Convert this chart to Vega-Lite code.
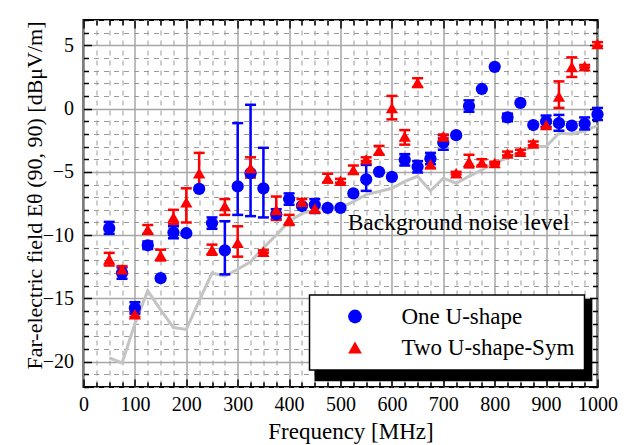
{
 "$schema": "https://vega.github.io/schema/vega-lite/v6.json",
 "width": 514, "height": 367,
 "autosize": {"type": "none"},
 "padding": {"left": 83.5, "top": 20, "right": 34.5, "bottom": 58},
 "background": "white",
 "config": {
  "view": {"stroke": "black", "strokeWidth": 2},
  "font": "Liberation Serif",
  "legend": {"labelFont": "Liberation Serif", "labelFontSize": 23, "labelColor": "black", "labelLimit": 400, "fillColor": "white", "strokeColor": "black", "strokeWidth": 1.5, "padding": 10, "symbolOffset": 24, "labelOffset": 35, "rowPadding": 7, "symbolSize": 190, "symbolStrokeWidth": 0}
 },
 "datasets": {
  "meas": [
   {"f":50,"s":"One U-shape","v":-9.45,"lo":-9.9,"hi":-8.95},
   {"f":75,"s":"One U-shape","v":-13.0,"lo":-13.45,"hi":-12.55},
   {"f":100,"s":"One U-shape","v":-15.75,"lo":-16.2,"hi":-15.3},
   {"f":125,"s":"One U-shape","v":-10.8,"lo":-11.1,"hi":-10.5},
   {"f":150,"s":"One U-shape","v":-13.4,"lo":null,"hi":null},
   {"f":175,"s":"One U-shape","v":-9.8,"lo":-10.25,"hi":-9.3},
   {"f":200,"s":"One U-shape","v":-9.85,"lo":null,"hi":null},
   {"f":225,"s":"One U-shape","v":-6.35,"lo":null,"hi":null},
   {"f":250,"s":"One U-shape","v":-9.05,"lo":-9.5,"hi":-8.6},
   {"f":275,"s":"One U-shape","v":-11.2,"lo":-13.1,"hi":-8.9},
   {"f":300,"s":"One U-shape","v":-6.15,"lo":-8.4,"hi":-1.15},
   {"f":325,"s":"One U-shape","v":-5.1,"lo":-8.5,"hi":0.3},
   {"f":350,"s":"One U-shape","v":-6.3,"lo":-8.6,"hi":-3.1},
   {"f":375,"s":"One U-shape","v":-8.35,"lo":-8.75,"hi":-7.95},
   {"f":400,"s":"One U-shape","v":-7.15,"lo":-7.6,"hi":-6.7},
   {"f":425,"s":"One U-shape","v":-7.7,"lo":null,"hi":null},
   {"f":450,"s":"One U-shape","v":-7.6,"lo":-8.25,"hi":-7.15},
   {"f":475,"s":"One U-shape","v":-7.85,"lo":null,"hi":null},
   {"f":500,"s":"One U-shape","v":-7.85,"lo":null,"hi":null},
   {"f":525,"s":"One U-shape","v":-6.7,"lo":null,"hi":null},
   {"f":550,"s":"One U-shape","v":-5.6,"lo":-6.5,"hi":-4.45},
   {"f":575,"s":"One U-shape","v":-5.0,"lo":null,"hi":null},
   {"f":600,"s":"One U-shape","v":-5.4,"lo":null,"hi":null},
   {"f":625,"s":"One U-shape","v":-4.05,"lo":-4.5,"hi":-3.6},
   {"f":650,"s":"One U-shape","v":-4.6,"lo":-5.05,"hi":-4.15},
   {"f":675,"s":"One U-shape","v":-3.95,"lo":-4.4,"hi":-3.5},
   {"f":700,"s":"One U-shape","v":-2.7,"lo":-3.25,"hi":-2.1},
   {"f":725,"s":"One U-shape","v":-2.1,"lo":null,"hi":null},
   {"f":750,"s":"One U-shape","v":0.2,"lo":-0.25,"hi":0.65},
   {"f":775,"s":"One U-shape","v":1.55,"lo":null,"hi":null},
   {"f":800,"s":"One U-shape","v":3.3,"lo":null,"hi":null},
   {"f":825,"s":"One U-shape","v":-0.7,"lo":-1.0,"hi":-0.4},
   {"f":850,"s":"One U-shape","v":0.45,"lo":null,"hi":null},
   {"f":875,"s":"One U-shape","v":-1.3,"lo":null,"hi":null},
   {"f":900,"s":"One U-shape","v":-1.0,"lo":-1.45,"hi":-0.55},
   {"f":925,"s":"One U-shape","v":-1.15,"lo":-1.75,"hi":-0.5},
   {"f":950,"s":"One U-shape","v":-1.35,"lo":null,"hi":null},
   {"f":975,"s":"One U-shape","v":-1.2,"lo":-1.65,"hi":-0.7},
   {"f":1000,"s":"One U-shape","v":-0.45,"lo":-0.9,"hi":0.05},
   {"f":50,"s":"Two U-shape-Sym","v":-11.9,"lo":-12.4,"hi":-11.4},
   {"f":75,"s":"Two U-shape-Sym","v":-12.7,"lo":-12.95,"hi":-12.45},
   {"f":100,"s":"Two U-shape-Sym","v":-16.25,"lo":-16.45,"hi":-16.05},
   {"f":125,"s":"Two U-shape-Sym","v":-9.55,"lo":-9.9,"hi":-9.2},
   {"f":150,"s":"Two U-shape-Sym","v":-11.6,"lo":-12.0,"hi":-11.15},
   {"f":175,"s":"Two U-shape-Sym","v":-8.6,"lo":-9.1,"hi":-8.0},
   {"f":200,"s":"Two U-shape-Sym","v":-7.4,"lo":-9.0,"hi":-6.3},
   {"f":225,"s":"Two U-shape-Sym","v":-5.1,"lo":-6.4,"hi":-3.5},
   {"f":250,"s":"Two U-shape-Sym","v":-11.15,"lo":-11.55,"hi":-10.75},
   {"f":275,"s":"Two U-shape-Sym","v":-7.7,"lo":-8.4,"hi":-7.15},
   {"f":300,"s":"Two U-shape-Sym","v":-10.6,"lo":-11.7,"hi":-9.3},
   {"f":325,"s":"Two U-shape-Sym","v":-4.7,"lo":-5.45,"hi":-3.85},
   {"f":350,"s":"Two U-shape-Sym","v":-11.3,"lo":-11.4,"hi":-11.2},
   {"f":375,"s":"Two U-shape-Sym","v":-8.0,"lo":-8.8,"hi":-6.95},
   {"f":400,"s":"Two U-shape-Sym","v":-8.8,"lo":-9.2,"hi":-8.4},
   {"f":425,"s":"Two U-shape-Sym","v":-7.35,"lo":-7.55,"hi":-7.15},
   {"f":450,"s":"Two U-shape-Sym","v":-7.9,"lo":-8.2,"hi":-7.6},
   {"f":475,"s":"Two U-shape-Sym","v":-5.5,"lo":-5.85,"hi":-5.15},
   {"f":500,"s":"Two U-shape-Sym","v":-5.7,"lo":-5.85,"hi":-5.55},
   {"f":525,"s":"Two U-shape-Sym","v":-4.85,"lo":-5.15,"hi":-4.5},
   {"f":550,"s":"Two U-shape-Sym","v":-4.0,"lo":-4.15,"hi":-3.85},
   {"f":575,"s":"Two U-shape-Sym","v":-3.3,"lo":-3.65,"hi":-2.95},
   {"f":600,"s":"Two U-shape-Sym","v":0.05,"lo":-0.85,"hi":1.0},
   {"f":625,"s":"Two U-shape-Sym","v":-2.2,"lo":-2.85,"hi":-1.7},
   {"f":650,"s":"Two U-shape-Sym","v":2.05,"lo":1.7,"hi":2.4},
   {"f":675,"s":"Two U-shape-Sym","v":-4.4,"lo":-4.7,"hi":-4.1},
   {"f":700,"s":"Two U-shape-Sym","v":-2.2,"lo":-2.35,"hi":-2.05},
   {"f":725,"s":"Two U-shape-Sym","v":-5.1,"lo":-5.2,"hi":-5.0},
   {"f":750,"s":"Two U-shape-Sym","v":-4.2,"lo":-4.65,"hi":-3.65},
   {"f":775,"s":"Two U-shape-Sym","v":-4.25,"lo":-4.5,"hi":-4.0},
   {"f":800,"s":"Two U-shape-Sym","v":-4.3,"lo":-4.4,"hi":-4.2},
   {"f":825,"s":"Two U-shape-Sym","v":-3.55,"lo":-3.7,"hi":-3.4},
   {"f":850,"s":"Two U-shape-Sym","v":-3.4,"lo":-3.55,"hi":-3.25},
   {"f":875,"s":"Two U-shape-Sym","v":-2.75,"lo":-2.9,"hi":-2.6},
   {"f":900,"s":"Two U-shape-Sym","v":-1.3,"lo":-1.5,"hi":-1.1},
   {"f":925,"s":"Two U-shape-Sym","v":0.95,"lo":0.05,"hi":2.15},
   {"f":950,"s":"Two U-shape-Sym","v":3.3,"lo":2.5,"hi":4.05},
   {"f":975,"s":"Two U-shape-Sym","v":3.35,"lo":3.25,"hi":3.45},
   {"f":1000,"s":"Two U-shape-Sym","v":5.1,"lo":4.95,"hi":5.25}
  ],
  "noise": [
   {"f":50,"n":-19.7},{"f":75,"n":-20.1},{"f":100,"n":-17.0},{"f":125,"n":-14.4},
   {"f":150,"n":-15.9},{"f":175,"n":-17.3},{"f":200,"n":-17.45},{"f":225,"n":-15.2},
   {"f":250,"n":-13.0},{"f":275,"n":-13.25},{"f":300,"n":-12.7},{"f":325,"n":-12.1},
   {"f":350,"n":-11.0},{"f":375,"n":-10.0},{"f":400,"n":-8.9},{"f":425,"n":-8.3},
   {"f":450,"n":-8.0},{"f":475,"n":-7.75},{"f":500,"n":-7.85},{"f":525,"n":-7.35},
   {"f":550,"n":-6.8},{"f":575,"n":-6.55},{"f":600,"n":-6.3},{"f":625,"n":-5.75},
   {"f":650,"n":-5.35},{"f":675,"n":-6.5},{"f":700,"n":-5.5},{"f":725,"n":-5.9},
   {"f":750,"n":-5.35},{"f":775,"n":-4.85},{"f":800,"n":-4.3},{"f":825,"n":-3.9},
   {"f":850,"n":-3.4},{"f":875,"n":-3.0},{"f":900,"n":-3.0},{"f":925,"n":-1.95},
   {"f":950,"n":-2.0},{"f":975,"n":-1.75},{"f":1000,"n":-1.35}
  ]
 },
 "resolve": {"axis": {"x": "independent", "y": "independent"}},
 "layer": [
  {
   "data": {"values": [{"k": "shadow"}]},
   "mark": {"type": "rect", "color": "black"},
   "encoding": {
    "x": {"datum": 449.4, "type": "quantitative", "scale": {"domain": [0, 1000], "nice": false, "zero": false}, "axis": null},
    "x2": {"datum": 990},
    "y": {"datum": -15.05, "type": "quantitative", "scale": {"domain": [-22, 7], "nice": false, "zero": false}, "axis": null},
    "y2": {"datum": -21.55}
   }
  },
  {
   "data": {"name": "noise"},
   "mark": {"type": "line", "color": "#c4c4c4", "strokeWidth": 3},
   "encoding": {
    "x": {"field": "f", "type": "quantitative", "scale": {"domain": [0, 1000], "nice": false, "zero": false},
     "axis": {"orient": "bottom", "values": [0,100,200,300,400,500,600,700,800,900,1000], "format": "d", "grid": true, "gridColor": "#a6a6a6", "gridWidth": 1.5, "ticks": false, "domain": false, "labels": true, "labelFont": "Liberation Serif", "labelFontSize": 20, "labelColor": "black", "labelPadding": 7, "labelFlush": false, "labelOverlap": false, "title": "Frequency [MHz]", "titleFont": "Liberation Serif", "titleFontSize": 23, "titleFontWeight": "normal", "titleColor": "black", "titleX": 267, "titleY": 51, "titleBaseline": "alphabetic", "titleAlign": "center"}},
    "y": {"field": "n", "type": "quantitative", "scale": {"domain": [-22, 7], "nice": false, "zero": false},
     "axis": {"orient": "left", "values": [-20,-15,-10,-5,0,5], "grid": true, "gridColor": "#a6a6a6", "gridWidth": 1.5, "ticks": false, "domain": false, "labels": true, "labelFont": "Liberation Serif", "labelFontSize": 20, "labelColor": "black", "labelPadding": 10, "labelFlush": false, "labelOverlap": false, "title": "Far-electric field  Eθ (90, 90) [dBμV/m]", "titleFont": "Liberation Serif", "titleFontSize": 22, "titleFontWeight": "normal", "titleColor": "black", "titleAngle": -90, "titleX": -42, "titleY": 175, "titleBaseline": "alphabetic", "titleAlign": "center"}}
   }
  },
  {
   "data": {"values": [{"label": "Background noise level"}]},
   "mark": {"type": "text", "font": "Liberation Serif", "fontSize": 23.5, "align": "left", "baseline": "alphabetic", "color": "black"},
   "encoding": {
    "x": {"datum": 514, "type": "quantitative", "scale": {"domain": [0, 1000], "nice": false, "zero": false},
     "axis": {"orient": "bottom", "values": [25,50,75,125,150,175,225,250,275,325,350,375,425,450,475,525,550,575,625,650,675,725,750,775,825,850,875,925,950,975], "grid": true, "gridDash": [5, 5], "gridColor": "#9a9a9a", "gridWidth": 1, "ticks": true, "tickSize": -5, "tickColor": "black", "tickWidth": 1.5, "labels": false, "domain": false, "title": null}},
    "y": {"datum": -9.6, "type": "quantitative", "scale": {"domain": [-22, 7], "nice": false, "zero": false},
     "axis": {"orient": "left", "values": [-22,-21,-19,-18,-17,-16,-14,-13,-12,-11,-9,-8,-7,-6,-4,-3,-2,-1,1,2,3,4,6,7], "grid": true, "gridDash": [5, 5], "gridColor": "#9a9a9a", "gridWidth": 1, "ticks": true, "tickSize": -5, "tickColor": "black", "tickWidth": 1.5, "labels": false, "domain": false, "title": null}},
    "text": {"field": "label"}
   }
  },
  {
   "data": {"name": "meas"},
   "mark": {"type": "rule", "strokeWidth": 2.5},
   "encoding": {
    "x": {"field": "f", "type": "quantitative", "scale": {"domain": [0, 1000], "nice": false, "zero": false},
     "axis": {"orient": "bottom", "values": [0,100,200,300,400,500,600,700,800,900,1000], "grid": false, "ticks": true, "tickSize": -8, "tickColor": "black", "tickWidth": 1.5, "labels": false, "domain": false, "title": null}},
    "y": {"field": "lo", "type": "quantitative", "scale": {"domain": [-22, 7], "nice": false, "zero": false},
     "axis": {"orient": "left", "values": [-20,-15,-10,-5,0,5], "grid": false, "ticks": true, "tickSize": -8, "tickColor": "black", "tickWidth": 1.5, "labels": false, "domain": false, "title": null}},
    "y2": {"field": "hi"},
    "stroke": {"field": "s", "type": "nominal", "scale": {"range": ["#0000ff", "#ff0000"]}, "legend": null}
   }
  },
  {
   "data": {"name": "meas"},
   "mark": {"type": "tick", "orient": "horizontal", "size": 11, "thickness": 2.5, "opacity": 1},
   "encoding": {
    "x": {"field": "f", "type": "quantitative", "scale": {"domain": [0, 1000], "nice": false, "zero": false},
     "axis": {"orient": "top", "values": [25,50,75,125,150,175,225,250,275,325,350,375,425,450,475,525,550,575,625,650,675,725,750,775,825,850,875,925,950,975], "grid": false, "ticks": true, "tickSize": -5, "tickColor": "black", "tickWidth": 1.5, "labels": false, "domain": false, "title": null}},
    "y": {"field": "lo", "type": "quantitative", "scale": {"domain": [-22, 7], "nice": false, "zero": false},
     "axis": {"orient": "right", "values": [-22,-21,-19,-18,-17,-16,-14,-13,-12,-11,-9,-8,-7,-6,-4,-3,-2,-1,1,2,3,4,6,7], "grid": false, "ticks": true, "tickSize": -5, "tickColor": "black", "tickWidth": 1.5, "labels": false, "domain": false, "title": null}},
    "fill": {"field": "s", "type": "nominal", "scale": {"range": ["#0000ff", "#ff0000"]}, "legend": null}
   }
  },
  {
   "data": {"name": "meas"},
   "mark": {"type": "tick", "orient": "horizontal", "size": 11, "thickness": 2.5, "opacity": 1},
   "encoding": {
    "x": {"field": "f", "type": "quantitative", "scale": {"domain": [0, 1000], "nice": false, "zero": false},
     "axis": {"orient": "top", "values": [0,100,200,300,400,500,600,700,800,900,1000], "grid": false, "ticks": true, "tickSize": -8, "tickColor": "black", "tickWidth": 1.5, "labels": false, "domain": false, "title": null}},
    "y": {"field": "hi", "type": "quantitative", "scale": {"domain": [-22, 7], "nice": false, "zero": false},
     "axis": {"orient": "right", "values": [-20,-15,-10,-5,0,5], "grid": false, "ticks": true, "tickSize": -8, "tickColor": "black", "tickWidth": 1.5, "labels": false, "domain": false, "title": null}},
    "fill": {"field": "s", "type": "nominal", "scale": {"range": ["#0000ff", "#ff0000"]}, "legend": null}
   }
  },
  {
   "data": {"name": "meas"},
   "mark": {"type": "point", "filled": true, "size": 150, "opacity": 1},
   "encoding": {
    "x": {"field": "f", "type": "quantitative", "scale": {"domain": [0, 1000], "nice": false, "zero": false}, "axis": null},
    "y": {"field": "v", "type": "quantitative", "scale": {"domain": [-22, 7], "nice": false, "zero": false}, "axis": null},
    "color": {"field": "s", "type": "nominal", "scale": {"domain": ["One U-shape", "Two U-shape-Sym"], "range": ["#0000ff", "#ff0000"]},
     "legend": {"title": null, "orient": "none", "legendX": 226, "legendY": 275}},
    "shape": {"field": "s", "type": "nominal", "scale": {"domain": ["One U-shape", "Two U-shape-Sym"], "range": ["circle", "triangle-up"]},
     "legend": {"title": null, "orient": "none", "legendX": 226, "legendY": 275}}
   }
  }
 ]
}
